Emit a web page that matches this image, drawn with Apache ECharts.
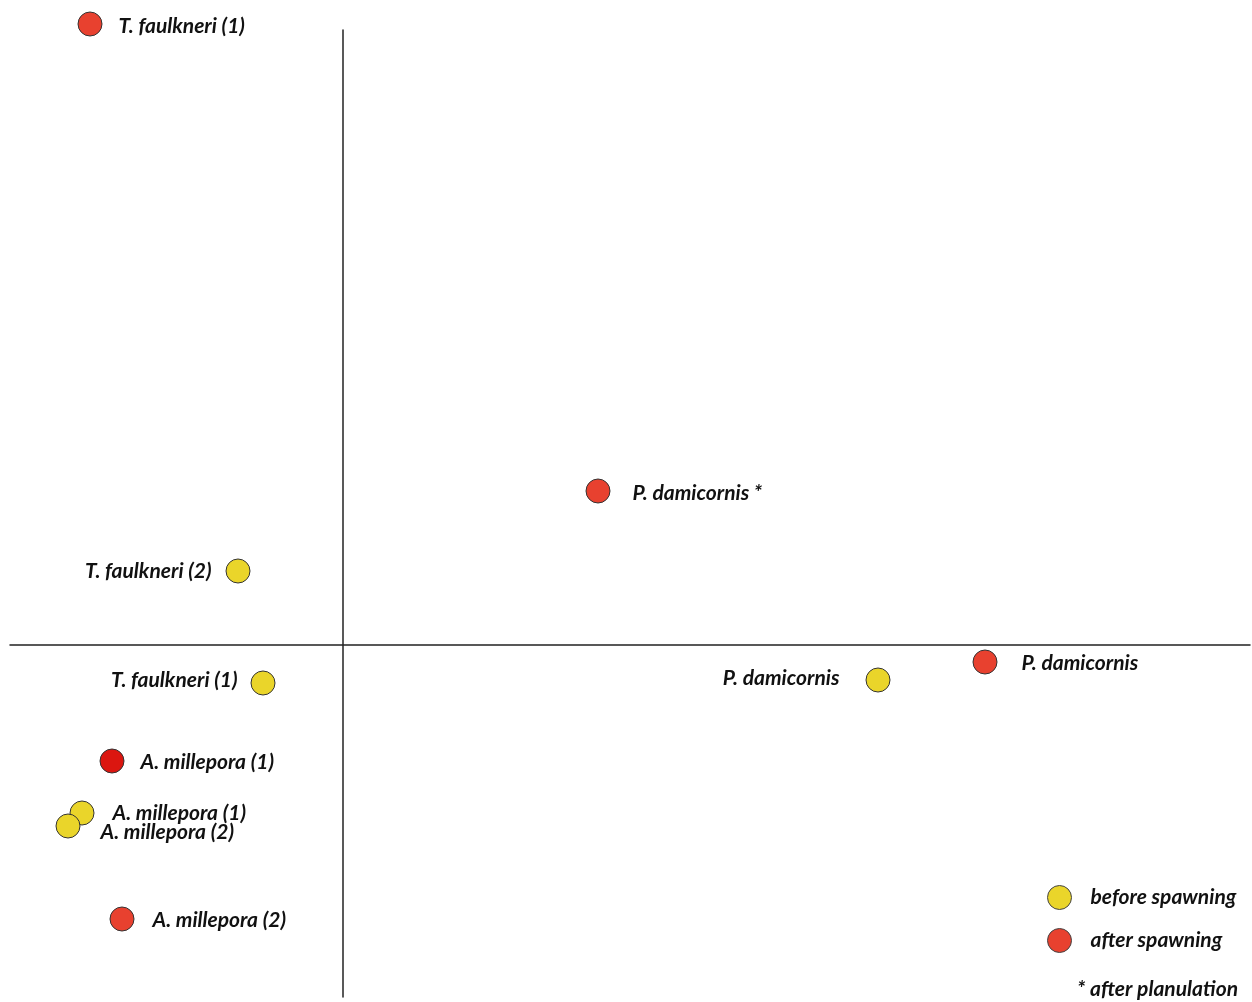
<!DOCTYPE html>
<html>
<head>
<meta charset="utf-8">
<script src="https://cdn.jsdelivr.net/npm/echarts@6/dist/echarts.min.js"></script>
<style>
  html, body { margin: 0; padding: 0; background: #fff; }
  #chart { width: 1252px; height: 1002px; }
</style>
</head>
<body>
<div id="chart"></div>
<script>
// point data (ordination scores)
var names  = ['T. faulkneri (1)', 'P. damicornis *', 'T. faulkneri (2)', 'T. faulkneri (1)', 'P. damicornis', 'P. damicornis',
              'A. millepora (1)', 'A. millepora (1)', 'A. millepora (2)', 'A. millepora (2)'];
var xs     = [-2.53, 2.55, -1.05, -0.80, 5.35, 6.42, -2.31, -2.61, -2.75, -2.21];
var ys     = [ 6.21, 1.54,  0.74, -0.38, -0.35, -0.17, -1.16, -1.68, -1.81, -2.74];
var groups = ['after', 'after', 'before', 'before', 'before', 'after', 'after', 'before', 'before', 'after'];
var groupNames = { before: 'before spawning', after: 'after spawning' };

// label placement per point (style only)
var labelPos = [
  { position: 'right', distance: 16, offset: [0, 2] },
  { position: 'right', distance: 22, offset: [0, 2] },
  { position: 'left',  distance: 14 },
  { position: 'left',  distance: 13, offset: [0, -3] },
  { position: 'left',  distance: 26, offset: [0, -2] },
  { position: 'right', distance: 24, offset: [0, 1] },
  { position: 'right', distance: 16, offset: [0, 1] },
  { position: 'right', distance: 18 },
  { position: 'right', distance: 20, offset: [0, 6] },
  { position: 'right', distance: 18, offset: [0, 1] }
];
var colorOverride = { 6: '#db1610' };

var RED = '#e8412f', YELLOW = '#ead52a';
var txt = { fontFamily: 'Lato', fontStyle: 'italic', fontWeight: 'bold', fontSize: 21, color: '#111' };

function buildData(g) {
  var out = [];
  for (var i = 0; i < names.length; i++) {
    if (groups[i] !== g) continue;
    var item = { name: names[i], value: [xs[i], ys[i]], label: labelPos[i] };
    if (colorOverride[i]) item.itemStyle = { color: colorOverride[i] };
    out.push(item);
  }
  return out;
}

var chart = echarts.init(document.getElementById('chart'));
chart.setOption({
  animation: false,
  grid: { left: 10, right: 2, top: 30, bottom: 5 },
  xAxis: {
    type: 'value', min: -3.33, max: 9.07,
    axisLine: { show: true, onZero: true, lineStyle: { color: '#222', width: 1.5 } },
    axisTick: { show: false }, axisLabel: { show: false }, splitLine: { show: false }
  },
  yAxis: {
    type: 'value', min: -3.52, max: 6.15,
    axisLine: { show: true, onZero: true, lineStyle: { color: '#222', width: 1.5 } },
    axisTick: { show: false }, axisLabel: { show: false }, splitLine: { show: false }
  },
  legend: {
    orient: 'vertical', left: 1042, top: 880,
    icon: 'circle', itemWidth: 24, itemHeight: 24, itemGap: 18,
    itemStyle: { borderWidth: 1, borderColor: '#444' },
    textStyle: Object.assign({}, txt, { padding: [0, 0, 0, 14] }),
    data: [groupNames.before, groupNames.after]
  },
  graphic: [{
    type: 'text', right: 14, top: 979,
    style: { text: '* after planulation', fill: '#111', font: 'italic bold 21px Lato' }
  }],
  series: [
    {
      name: groupNames.before, type: 'scatter', symbol: 'circle', symbolSize: 24, clip: false,
      itemStyle: { color: YELLOW, borderColor: '#333', borderWidth: 1, opacity: 1 },
      label: Object.assign({ show: true, formatter: '{b}' }, txt),
      data: buildData('before')
    },
    {
      name: groupNames.after, type: 'scatter', symbol: 'circle', symbolSize: 24, clip: false,
      itemStyle: { color: RED, borderColor: '#333', borderWidth: 1, opacity: 1 },
      label: Object.assign({ show: true, formatter: '{b}' }, txt),
      data: buildData('after')
    }
  ]
});
</script>
</body>
</html>
